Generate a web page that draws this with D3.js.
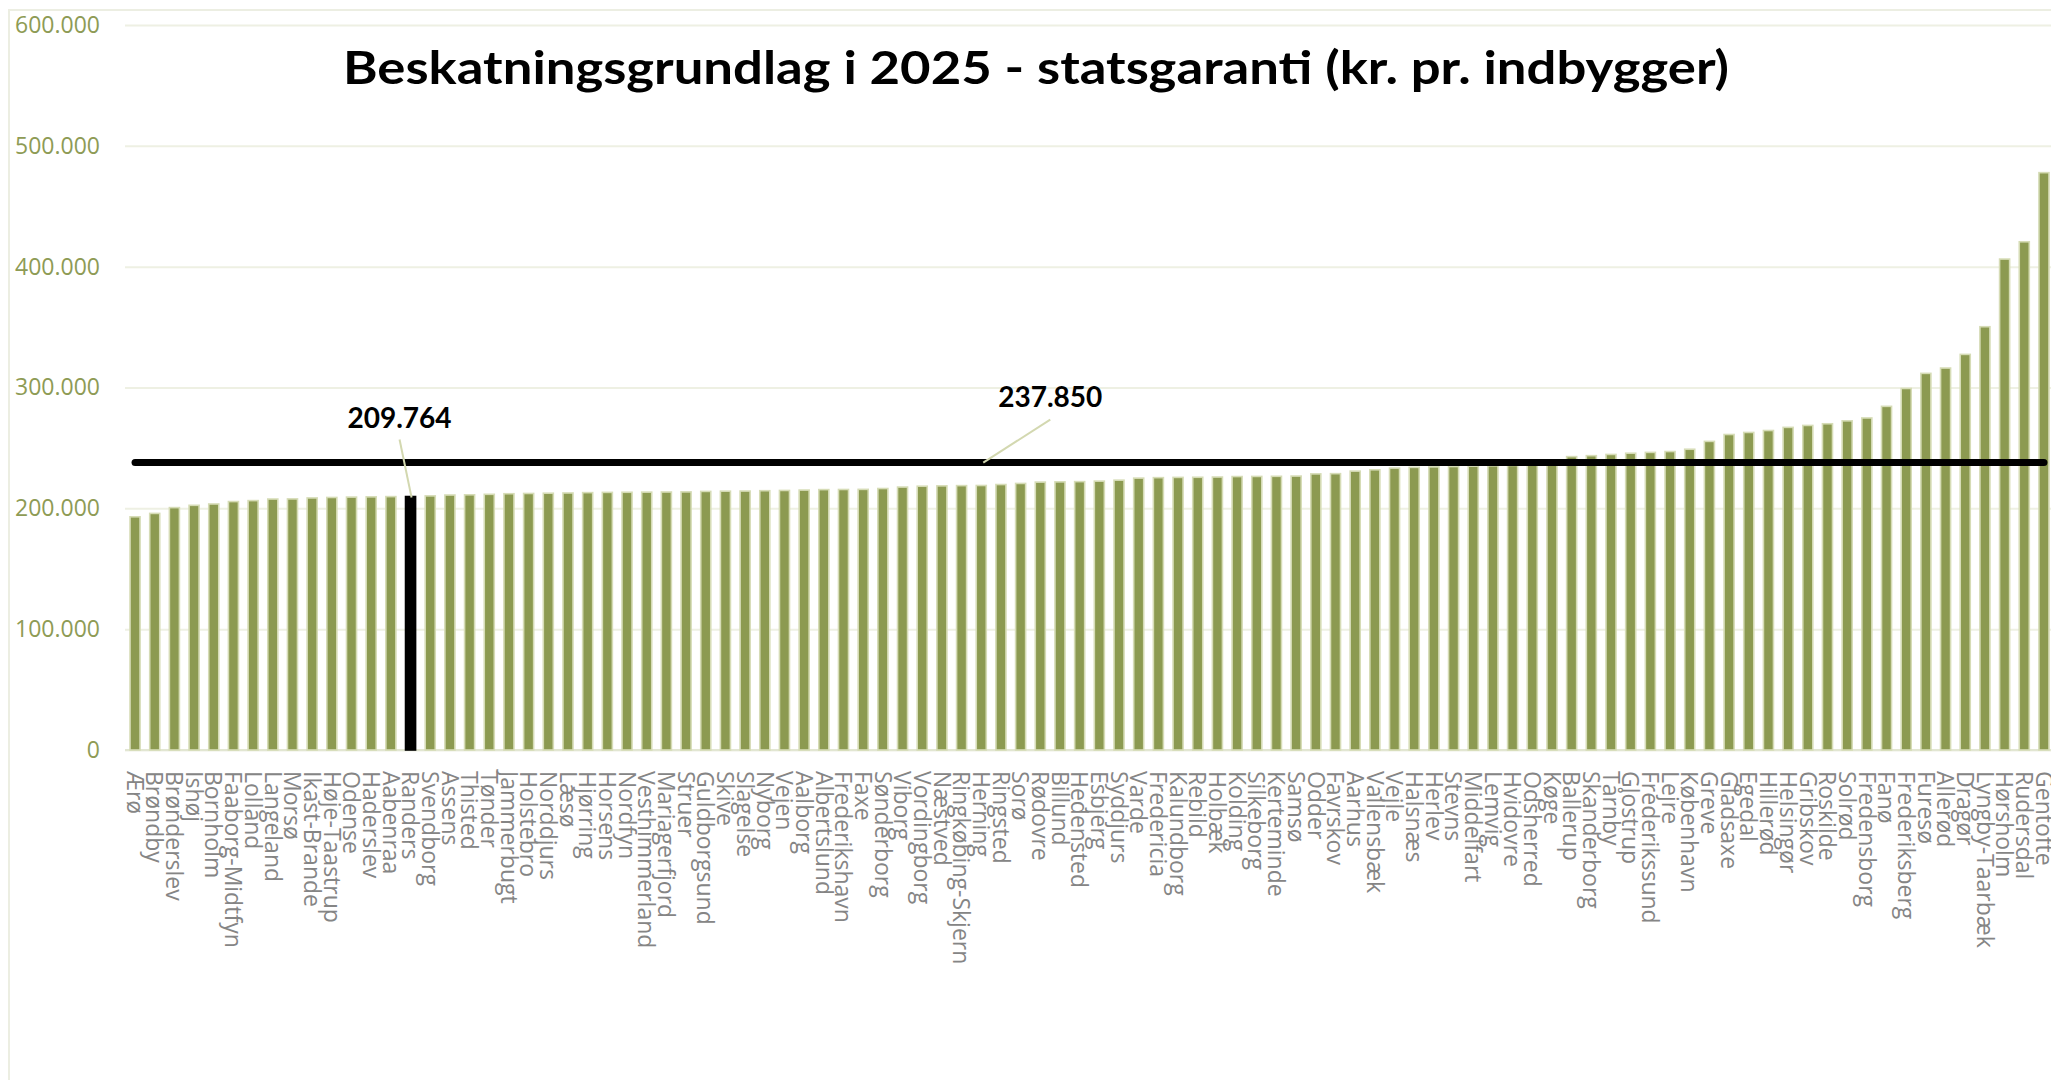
<!DOCTYPE html>
<html>
<head>
<meta charset="utf-8">
<script src="https://cdn.jsdelivr.net/npm/d3@7"></script>
<style>
body { margin: 0; background: #fff; }
</style>
</head>
<body>
<div id="chart-area"></div>
<script>
/*
*    beskatningsgrundlag 2025
*/

const municipalities = [
    "Ærø", "Brøndby", "Brønderslev", "Ishøj", "Bornholm", "Faaborg-Midtfyn", "Lolland", "Langeland",
    "Morsø", "Ikast-Brande", "Høje-Taastrup", "Odense", "Haderslev", "Aabenraa", "Randers", "Svendborg",
    "Assens", "Thisted", "Tønder", "Jammerbugt", "Holstebro", "Norddjurs", "Læsø", "Hjørring",
    "Horsens", "Nordfyn", "Vesthimmerland", "Mariagerfjord", "Struer", "Guldborgsund", "Skive", "Slagelse",
    "Nyborg", "Vejen", "Aalborg", "Albertslund", "Frederikshavn", "Faxe", "Sønderborg", "Viborg",
    "Vordingborg", "Næstved", "Ringkøbing-Skjern", "Herning", "Ringsted", "Sorø", "Rødovre", "Billund",
    "Hedensted", "Esbjerg", "Syddjurs", "Varde", "Fredericia", "Kalundborg", "Rebild", "Holbæk",
    "Kolding", "Silkeborg", "Kerteminde", "Samsø", "Odder", "Favrskov", "Aarhus", "Vallensbæk",
    "Vejle", "Halsnæs", "Herlev", "Stevns", "Middelfart", "Lemvig", "Hvidovre", "Odsherred",
    "Køge", "Ballerup", "Skanderborg", "Tårnby", "Glostrup", "Frederikssund", "Lejre", "København",
    "Greve", "Gladsaxe", "Egedal", "Hillerød", "Helsingør", "Gribskov", "Roskilde", "Solrød",
    "Fredensborg", "Fanø", "Frederiksberg", "Furesø", "Allerød", "Dragør", "Lyngby-Taarbæk", "Hørsholm",
    "Rudersdal", "Gentofte"
];

const values = [
    193000, 195800, 200600, 202500, 203600, 205600, 206400, 207700,
    207800, 208600, 209000, 209300, 209500, 209700, 209764, 210300,
    211000, 211200, 211600, 212100, 212300, 212500, 212700, 213000,
    213200, 213300, 213400, 213500, 213600, 214000, 214200, 214300,
    214600, 214800, 215100, 215500, 215600, 215700, 216400, 217600,
    218300, 218600, 218800, 218900, 219700, 220600, 221700, 221900,
    222100, 222500, 223300, 225000, 225400, 225600, 225700, 225900,
    226300, 226400, 226500, 226700, 228500, 228700, 230800, 231900,
    233300, 233900, 234300, 234600, 234900, 235200, 235500, 235800,
    237000, 242800, 243600, 244600, 245600, 246300, 247000, 248900,
    255400, 261100, 262800, 264400, 267000, 268600, 270000, 272400,
    274800, 284400, 299200, 311700, 316100, 327400, 350300, 406300,
    420600, 477800
];

const average = 237850;
const highlighted = "Randers";
const averageLabelAt = "Herning";
const yTicks = [0, 100000, 200000, 300000, 400000, 500000, 600000];
const title = "Beskatningsgrundlag i 2025 - statsgaranti (kr. pr. indbygger)";

const data = municipalities.map((m, i) => ({name: m, value: values[i]}));

const width = 2051;
const height = 1080;
const plotLeft = 125;
const plotTop = 25;
const plotBottom = 750;

const daLocale = d3.formatLocale({decimal: ",", thousands: ".", grouping: [3], currency: ["", " kr."]});
const fmt = daLocale.format(",");

const svg = d3.select("#chart-area")
    .append("svg")
    .attr("width", width)
    .attr("height", height);

svg.append("rect")
    .attr("width", width)
    .attr("height", height)
    .attr("fill", "white");

// light chart frame
svg.append("rect")
    .attr("x", 9)
    .attr("y", 10)
    .attr("width", width + 20)
    .attr("height", height + 20)
    .attr("fill", "none")
    .attr("stroke", "#eceee2")
    .attr("stroke-width", 2);

const x = d3.scaleBand()
    .domain(municipalities)
    .range([125.2, 2053.8])
    .paddingInner(0.49)
    .paddingOuter(0.245);

const y = d3.scaleLinear()
    .domain([0, 600000])
    .range([plotBottom, plotTop]);

// y axis + gridlines
const leftAxis = d3.axisLeft(y)
    .tickValues(yTicks)
    .tickSize(-(width - plotLeft))
    .tickPadding(25)
    .tickFormat(d => fmt(d));

const yAxis = svg.append("g")
    .attr("class", "left axis")
    .attr("transform", "translate(" + plotLeft + ",0)")
    .call(leftAxis);

yAxis.select(".domain").remove();
yAxis.selectAll("line")
    .attr("stroke", "#eef0e3")
    .attr("stroke-width", 2);
yAxis.selectAll("text")
    .attr("fill", "#8e9b55")
    .style("font-family", "'Open Sans', sans-serif")
    .style("font-size", "23px");

// x axis
const bottomAxis = d3.axisBottom(x).tickSize(0);

const xAxis = svg.append("g")
    .attr("class", "bottom axis")
    .attr("transform", "translate(0," + plotBottom + ")")
    .call(bottomAxis);

xAxis.select(".domain").remove();
xAxis.append("line")
    .attr("x1", plotLeft)
    .attr("x2", width)
    .attr("stroke", "#e2e6d2")
    .attr("stroke-width", 2);

xAxis.selectAll("text")
    .attr("transform", "rotate(90)")
    .attr("x", 21)
    .attr("y", 0)
    .attr("dy", "0.36em")
    .style("text-anchor", "start")
    .attr("fill", "#858585")
    .style("font-family", "'Open Sans', sans-serif")
    .style("font-size", "23px");

// bars
svg.append("g").selectAll("rect")
    .data(data)
    .enter()
    .append("rect")
        .attr("x", d => x(d.name))
        .attr("y", d => y(d.value))
        .attr("width", x.bandwidth())
        .attr("height", d => y(0) - y(d.value))
        .attr("fill", d => d.name === highlighted ? "black" : "#8c9a51")
        .attr("stroke", d => d.name === highlighted ? "black" : "#d6dcb6")
        .attr("stroke-width", 1.6);

// average line
const half = x.bandwidth() / 2;
svg.append("line")
    .attr("x1", x(municipalities[0]) + half)
    .attr("x2", x(municipalities[municipalities.length - 1]) + half)
    .attr("y1", y(average))
    .attr("y2", y(average))
    .attr("stroke", "black")
    .attr("stroke-width", 7)
    .attr("stroke-linecap", "round");

// annotations
const hiX = x(highlighted) + half;
const hiVal = values[municipalities.indexOf(highlighted)];
const hiLabelX = hiX - 11;
const hiLabelY = y(hiVal) - 69;

svg.append("line")
    .attr("x1", hiLabelX)
    .attr("y1", hiLabelY + 12)
    .attr("x2", hiX + 1)
    .attr("y2", y(hiVal) + 1)
    .attr("stroke", "#d3d8b0")
    .attr("stroke-width", 2);

svg.append("text")
    .attr("x", hiLabelX)
    .attr("y", hiLabelY)
    .attr("text-anchor", "middle")
    .style("font-family", "Lato, sans-serif")
    .style("font-weight", "bold")
    .style("font-size", "28px")
    .text(fmt(hiVal));

const avX = x(averageLabelAt) + half;
const avLabelX = avX + 69;
const avLabelY = y(average) - 56;

svg.append("line")
    .attr("x1", avLabelX)
    .attr("y1", avLabelY + 13)
    .attr("x2", avX + 2)
    .attr("y2", y(average))
    .attr("stroke", "#d3d8b0")
    .attr("stroke-width", 2);

svg.append("text")
    .attr("x", avLabelX)
    .attr("y", avLabelY)
    .attr("text-anchor", "middle")
    .style("font-family", "Lato, sans-serif")
    .style("font-weight", "bold")
    .style("font-size", "28px")
    .text(fmt(average));

// title
svg.append("text")
    .attr("x", 1036)
    .attr("y", 84)
    .attr("text-anchor", "middle")
    .attr("textLength", 1386)
    .attr("lengthAdjust", "spacingAndGlyphs")
    .style("font-family", "Lato, sans-serif")
    .style("font-weight", "bold")
    .style("font-size", "46px")
    .text(title);
</script>
</body>
</html>
